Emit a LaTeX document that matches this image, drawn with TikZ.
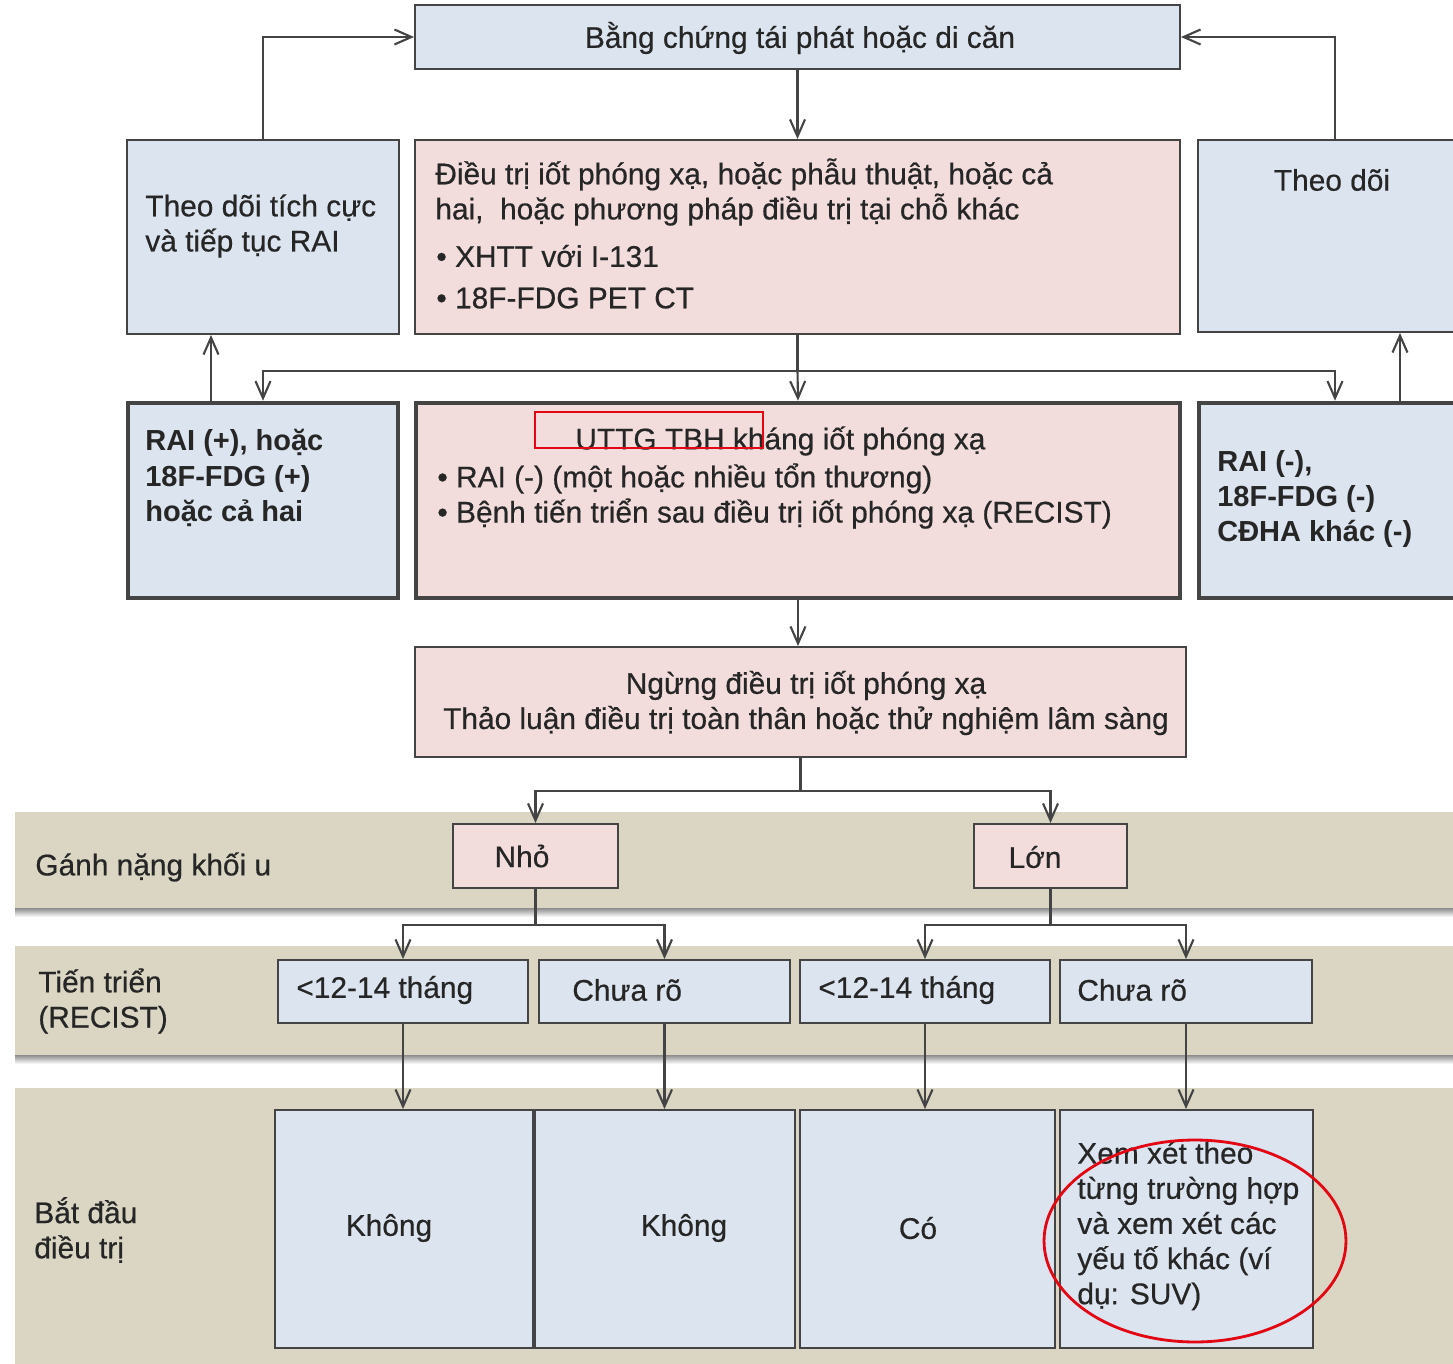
\documentclass[tikz,border=0pt]{standalone}
\usepackage{fontspec}
\setmainfont{Liberation Sans}
\newfontfamily\medfont{Liberation Sans}[FakeBold=0.5]
\usetikzlibrary{arrows.meta,positioning,fit,calc}
\definecolor{bx}{HTML}{DCE4F0}
\definecolor{pk}{HTML}{F2DCDC}
\definecolor{band}{HTML}{DAD6C3}
\definecolor{edge}{HTML}{444444}
\definecolor{ink}{HTML}{262626}
\definecolor{redmark}{HTML}{E30613}
\tikzset{
  box/.style={draw=edge, line width=1.1pt, inner sep=0pt},
  bluebox/.style={box, fill=bx},
  pinkbox/.style={box, fill=pk},
  heavy/.style={box, line width=2.6pt},
  txt/.style={font=\medfont\fontsize{17}{20}\selectfont, text=ink, align=left, inner sep=0pt},
  bold/.style={txt, font=\fontsize{16.5}{20}\selectfont\bfseries},
  flow/.style={-{Straight Barb[length=3.4mm,width=3mm]}, line width=1.2pt, draw=edge},
  link/.style={line width=1.2pt, draw=edge},
  lane/.style={fill=band},
  hint/.style={draw=redmark, line width=1.6pt},
}
\newcommand{\rect}[6]{\node[#2, fit={(#3,#4) (#5,#6)}] (#1) {};}
\newcommand{\lane}[2]{%
  \shade[top color=black!45, bottom color=white] (15,#2) rectangle (1453,#2+9);
  \fill[lane] (15,#1) rectangle (1453,#2);}

\begin{document}
\begin{tikzpicture}[x=0.02cm,y=-0.02cm]
  \useasboundingbox (0,0) rectangle (1453,1364);
  \clip (0,0) rectangle (1453,1364);
  % lanes
  \lane{812}{908}
  \lane{946}{1055}
  \lane{1088}{1364}
  \node[txt, anchor=west] (lane1) at (35,867) {Gánh nặng khối u};
  \node[txt, anchor=west] (lane2) at (38,1001) {Tiến triển\\(RECIST)};
  \node[txt, anchor=west] (lane3) at (34,1230) {Bắt đầu\\điều trị};
  % upper part
  \rect{top}{bluebox}{415}{5}{1180}{69}
  \node[txt] (top-t) at (800,38) {Bằng chứng tái phát hoặc di căn};
  \rect{watch}{bluebox}{127}{140}{399}{334}
  \node[txt, anchor=west] (watch-t) at (145,226) {Theo dõi tích cực\\và tiếp tục RAI};
  \rect{care}{pinkbox}{415}{140}{1180}{334}
  \node[txt, anchor=west] (care-t) at (435,192) {Điều trị iốt phóng xạ, hoặc phẫu thuật, hoặc cả\\hai,\ \ hoặc phương pháp điều trị tại chỗ khác};
  \node[txt, anchor=west] (care-b1) at (436,256) {• XHTT với I-131};
  \node[txt, anchor=west] (care-b2) at (436,298) {• 18F-FDG PET CT};
  \rect{follow}{bluebox}{1198}{140}{1472}{332}
  \node[txt] (follow-t) at (1332,180) {Theo dõi};
  % second row
  \rect{pos}{heavy, fill=bx}{128}{403}{398}{598}
  \node[bold, anchor=west] (pos-t) at (145,478) {RAI (+), hoặc\\18F-FDG (+)\\hoặc cả hai};
  \rect{res}{heavy, fill=pk}{416}{403}{1180}{598}
  \node[txt, anchor=west] (res-t) at (575,441) {UTTG TBH kháng iốt phóng xạ};
  \node[txt, anchor=west] (res-b) at (437,496) {• RAI (-) (một hoặc nhiều tổn thương)\\• Bệnh tiến triển sau điều trị iốt phóng xạ (RECIST)};
  \rect{neg}{heavy, fill=bx}{1199}{403}{1471}{598}
  \node[bold, anchor=west] (neg-t) at (1217,499) {RAI (-),\\18F-FDG (-)\\CĐHA khác (-)};
  % stop box
  \rect{stop}{pinkbox}{415}{647}{1186}{757}
  \node[txt, align=center] (stop-t) at (806,703) {Ngừng điều trị iốt phóng xạ\\Thảo luận điều trị toàn thân hoặc thử nghiệm lâm sàng};
  % tumour burden
  \rect{small}{pinkbox}{453}{824}{618}{888}
  \node[txt] (small-t) at (522,856) {Nhỏ};
  \rect{large}{pinkbox}{974}{824}{1127}{888}
  \node[txt] (large-t) at (1035,857) {Lớn};
  % progression
  \rect{fast1}{bluebox}{278}{960}{528}{1023}
  \node[txt, anchor=west] (fast1-t) at (296,990) {<12-14 tháng};
  \rect{open1}{bluebox}{539}{960}{790}{1023}
  \node[txt, anchor=west] (open1-t) at (572,990) {Chưa rõ};
  \rect{fast2}{bluebox}{800}{960}{1050}{1023}
  \node[txt, anchor=west] (fast2-t) at (818,990) {<12-14 tháng};
  \rect{open2}{bluebox}{1060}{960}{1312}{1023}
  \node[txt, anchor=west] (open2-t) at (1077,990) {Chưa rõ};
  % start treatment
  \rect{start1}{bluebox}{275}{1110}{533}{1348}
  \node[txt] (start1-t) at (389,1228) {Không};
  \rect{start2}{bluebox}{535}{1110}{795}{1348}
  \node[txt] (start2-t) at (684,1228) {Không};
  \rect{start3}{bluebox}{800}{1110}{1055}{1348}
  \node[txt] (start3-t) at (918,1228) {Có};
  \rect{start4}{bluebox}{1060}{1110}{1313}{1348}
  \node[txt, anchor=west] (start4-t) at (1077,1226) {Xem xét theo\\từng trường hợp\\và xem xét các\\yếu tố khác (ví\\dụ: SUV)};
  % connectors
  \draw[flow] (watch.north) |- (top.west);
  \draw[flow] (follow.north) |- (top.east);
  \draw[flow] (top) -- (care);
  \draw[link] (care.south) -- ++(0,36) coordinate (fork);
  \draw[flow] (fork) -| (pos.north);
  \draw[flow] (fork) -| (neg.north);
  \draw[flow] (fork) -- (res.north);
  \draw[flow] ([xshift=-1.04cm]pos.north) -- ([xshift=-1.04cm]watch.south);
  \draw[flow] ([xshift=1.3cm]neg.north) -- ([xshift=1.3cm]follow.south);
  \draw[flow] (res.south) -- (res.south |- stop.north);
  \draw[link] (stop.south) -- ++(0,33) coordinate (fork2);
  \draw[flow] (fork2) -| (small.north);
  \draw[flow] (fork2) -| (large.north);
  \draw[link] (small.south) -- ++(0,36) coordinate (fork3);
  \draw[flow] (fork3) -| (fast1.north);
  \draw[flow] (fork3) -| (open1.north);
  \draw[link] (large.south) -- ++(0,36) coordinate (fork4);
  \draw[flow] (fork4) -| (fast2.north);
  \draw[flow] (fork4) -| (open2.north);
  \draw[flow] (fast1.south) -- (fast1.south |- start1.north);
  \draw[flow] (open1.south) -- (open1.south |- start2.north);
  \draw[flow] (fast2.south) -- (fast2.south |- start3.north);
  \draw[flow] (open2.south) -- (open2.south |- start4.north);
  % red marks
  \draw[hint] (535,412) rectangle (763,448);
  \draw[hint] (1195,1241) ellipse [x radius=3.02cm, y radius=2.02cm];
\end{tikzpicture}
\end{document}
